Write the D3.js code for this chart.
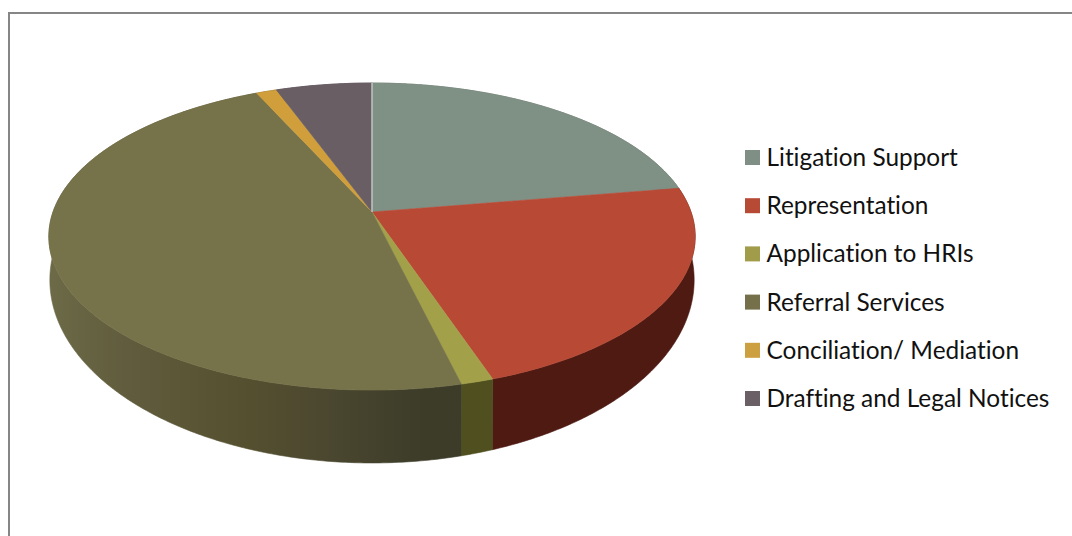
<!DOCTYPE html>
<html>
<head>
<meta charset="utf-8">
<script src="https://cdn.jsdelivr.net/npm/d3@7"></script>
<style>
  html, body { margin: 0; padding: 0; background: #fff; }
  svg { display: block; }
  text { font-family: Lato, "Open Sans", sans-serif; fill: #111; font-variant-ligatures: none; }
</style>
</head>
<body>
<svg id="chart" width="1072" height="536"></svg>
<script>
const categories = ["Litigation Support", "Representation", "Application to HRIs",
                    "Referral Services", "Conciliation/ Mediation", "Drafting and Legal Notices"];
const shares = [22.4, 22.4, 1.4, 47.0, 1.2, 5.6];
const topColors = ["#7f9085", "#b84a35", "#a3a04a", "#767249", "#d09f3c", "#6a5e65"];
const legendColors = ["#7f8f85", "#b74a35", "#a09c4a", "#757049", "#cca040", "#6b5f66"];

const svg = d3.select("#chart");
const color = d3.scaleOrdinal(categories, topColors);
const legendColor = d3.scaleOrdinal(categories, legendColors);

// Perspective tilt: the far edge of the disc is foreshortened relative to the near edge.
const tilt = -0.16;
const cx = 372;
const topDisc = { y0: 212, rx: 319, ry: 149.6 };
const baseDisc = { y0: 250.7, rx: 318, ry: 178.3 };

function project(disc, angle) {
  const u = Math.sin(angle), v = -Math.cos(angle);
  const w = 1 + tilt * v;
  return [cx + disc.rx * u / w, disc.y0 + disc.ry * v / w];
}
function rim(disc, a0, a1) {
  const n = Math.max(2, Math.ceil((a1 - a0) / 0.01));
  return d3.range(n + 1).map(i => project(disc, a0 + (a1 - a0) * i / n));
}

const slices = d3.pie().sort(null).value(d => d.share)(
  categories.map((name, i) => ({ name, share: shares[i] }))
);
const line = d3.line();

// Side wall shading, running left to right across the page.
const defs = svg.append("defs");
function wallGradient(id, stops) {
  const g = defs.append("linearGradient").attr("id", id)
    .attr("gradientUnits", "userSpaceOnUse")
    .attr("x1", 49).attr("x2", 695).attr("y1", 0).attr("y2", 0);
  g.selectAll("stop").data(stops).join("stop")
    .attr("offset", d => d[0]).attr("stop-color", d => d[1]);
  return `url(#${id})`;
}
const referralWall = wallGradient("wall-referral", [
  [0, "#6c6a47"], [0.12, "#605c3d"], [0.3, "#55502f"], [0.42, "#4c4830"],
  [0.58, "#3c3c29"], [1, "#3a3a28"]
]);
const wallFill = {
  "Litigation Support": "#5f6c64",
  "Representation": "#4e1a12",
  "Application to HRIs": "#4f4f1f",
  "Referral Services": referralWall,
  "Conciliation/ Mediation": "#6b5a28",
  "Drafting and Legal Notices": "#4a4248"
};

// Frame: only the left and top rules are present.
svg.append("path")
  .attr("d", "M9 536V13H1072")
  .attr("fill", "none").attr("stroke", "#868686").attr("stroke-width", 2);

// Walls first, the top face then covers whatever lies behind it.
svg.append("g").selectAll("path").data(slices).join("path")
  .attr("d", d => line([...rim(topDisc, d.startAngle, d.endAngle),
                        ...rim(baseDisc, d.startAngle, d.endAngle).reverse()]) + "Z")
  .attr("fill", d => wallFill[d.data.name])
  .attr("stroke", d => wallFill[d.data.name])
  .attr("stroke-width", 0.6);

const apex = [cx, topDisc.y0];
svg.append("g").selectAll("path").data(slices).join("path")
  .attr("d", d => line([apex, ...rim(topDisc, d.startAngle, d.endAngle)]) + "Z")
  .attr("fill", d => color(d.data.name))
  .attr("stroke", d => color(d.data.name))
  .attr("stroke-width", 0.6);

// Pale seam where the circle closes at twelve o'clock.
svg.append("path")
  .attr("d", line([apex, project(topDisc, 0)]))
  .attr("stroke", "#d8dcd8").attr("stroke-width", 1.2).attr("fill", "none");

// Legend
const legendY = d3.scalePoint(categories, [150, 391]);
const rows = svg.append("g").selectAll("g").data(categories).join("g")
  .attr("transform", d => `translate(745,${legendY(d)})`);
rows.append("rect").attr("width", 15).attr("height", 15).attr("fill", d => legendColor(d));
rows.append("text").attr("x", 21.5).attr("y", 16).attr("font-size", 24.4).text(d => d);
</script>
</body>
</html>
